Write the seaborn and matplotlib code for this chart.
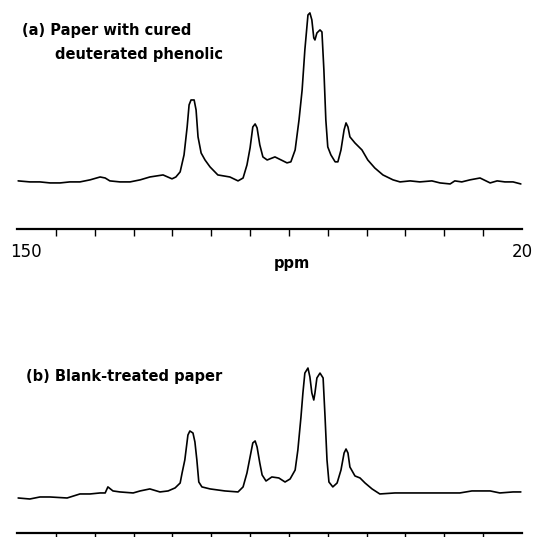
import pandas as pd
import matplotlib.pyplot as plt
import matplotlib.transforms as mtransforms
import seaborn as sns

# chemical shift (ppm) and relative intensity
ppm_a = [149.7, 146.7, 144.1, 141.5, 138.9, 136.4, 133.8, 131.2, 128.6, 127.3,
         126.1, 123.5, 120.9, 118.3, 115.8, 112.4, 110.1, 109.1, 108.0, 107.0,
         106.2, 105.7, 105.2, 104.4, 103.9, 103.4, 102.6, 101.6, 100.3, 98.3,
         95.2, 93.1, 91.8, 90.8, 90.0, 89.3, 88.7, 88.2, 87.5, 86.7,
         85.6, 83.6, 82.0, 80.5, 79.5, 78.4, 77.4, 76.6, 75.9, 75.1,
         74.6, 74.1, 73.6, 73.3, 72.8, 72.0, 71.5, 71.0, 70.5, 70.0,
         69.2, 68.1, 67.4, 66.6, 65.8, 65.3, 64.8, 64.3, 63.0, 61.2,
         59.7, 57.9, 55.8, 53.2, 51.4, 48.8, 46.3, 43.2, 41.1, 38.5,
         37.3, 35.5, 33.4, 30.8, 28.2, 26.4, 24.4, 22.3, 20.3]
int_a = [1.2, 0.6, 0.6, 0.0, 0.0, 0.6, 0.6, 1.8, 3.5, 2.9,
         1.2, 0.6, 0.6, 1.8, 3.5, 4.7, 2.4, 3.5, 6.5, 16.5,
         32.9, 45.9, 48.8, 48.8, 42.9, 27.1, 17.6, 13.5, 9.4, 4.7,
         3.5, 1.2, 2.9, 10.6, 20.6, 32.9, 34.7, 32.4, 22.4, 15.3,
         13.5, 15.3, 13.5, 11.8, 12.4, 19.4, 37.1, 54.7, 78.2, 98.8,
         100.0, 95.9, 85.3, 84.1, 88.2, 90.0, 88.8, 66.5, 37.1, 21.2,
         16.5, 12.4, 12.4, 19.4, 31.2, 35.3, 32.9, 27.1, 23.5, 19.4,
         13.5, 8.8, 4.7, 1.8, 0.6, 1.2, 0.6, 1.2, 0.0, -0.6,
         1.2, 0.6, 1.8, 2.9, 0.0, 1.2, 0.6, 0.6, -0.6]

ppm_b = [149.7, 146.7, 144.1, 141.5, 137.1, 133.8, 131.2, 128.6, 127.3, 126.6,
         125.3, 123.5, 120.1, 118.3, 115.8, 113.2, 111.1, 109.3, 108.0, 107.5,
         106.8, 106.0, 105.5, 104.7, 104.2, 103.7, 103.2, 102.4, 100.3, 96.5,
         93.1, 91.8, 90.8, 90.0, 89.3, 88.7, 88.2, 87.5, 86.9, 85.9,
         84.4, 82.6, 81.0, 79.7, 78.4, 77.7, 76.9, 76.4, 75.9, 75.1,
         74.6, 74.1, 73.6, 73.3, 72.8, 72.0, 71.2, 70.7, 70.2, 69.7,
         68.7, 67.6, 66.6, 65.8, 65.3, 64.8, 64.3, 63.0, 61.7, 60.4,
         58.6, 56.6, 52.7, 50.1, 46.3, 41.1, 36.0, 32.9, 28.2, 25.7,
         22.3, 20.3]
int_b = [-3.2, -4.0, -2.4, -2.4, -3.2, 0.0, 0.0, 0.8, 0.8, 5.6,
         2.4, 1.6, 0.8, 2.4, 4.0, 1.6, 2.4, 4.8, 8.7, 16.7,
         27.0, 46.8, 50.0, 48.4, 41.3, 27.0, 9.5, 5.6, 4.0, 2.4,
         1.6, 5.6, 16.7, 29.4, 40.5, 42.1, 37.3, 24.6, 15.1, 10.3,
         13.5, 12.7, 9.5, 11.9, 19.0, 34.9, 61.1, 80.2, 96.0, 100.0,
         92.9, 80.2, 74.6, 80.2, 92.1, 96.0, 92.1, 61.1, 27.0, 9.5,
         5.6, 8.7, 19.0, 32.5, 35.7, 32.5, 21.4, 14.3, 12.7, 8.7,
         4.0, 0.0, 0.8, 0.8, 0.8, 0.8, 0.8, 2.4, 2.4, 0.8,
         1.6, 1.6]

minor_ticks = [140, 130, 120, 110, 100, 90, 80, 70, 60, 50, 40, 30]
end_labels = [150, 20]

sns.set_style("white")
plt.rcParams['font.family'] = ['DejaVu Sans']
plt.rcParams['text.color'] = 'black'
plt.rcParams['xtick.color'] = 'black'
plt.rcParams['axes.labelcolor'] = 'black'

fig = plt.figure(figsize=(5.39, 5.37), dpi=100)
ax_a = fig.add_axes([17 / 539, 1 - 229 / 537, 505 / 539, 229 / 537])
ax_b = fig.add_axes([17 / 539, 1 - 533 / 537, 505 / 539, 203 / 537])

df_a = pd.DataFrame({'ppm': ppm_a, 'intensity': int_a})
df_b = pd.DataFrame({'ppm': ppm_b, 'intensity': int_b})

sns.lineplot(data=df_a, x='ppm', y='intensity', sort=False, estimator=None,
             color='black', linewidth=1.2, ax=ax_a)
sns.lineplot(data=df_b, x='ppm', y='intensity', sort=False, estimator=None,
             color='black', linewidth=1.2, ax=ax_b)

ax_a.set_ylim(-27.1, 107.6)
ax_b.set_ylim(-31.0, 130.2)

for ax in (ax_a, ax_b):
    ax.set_xlim(150, 20)
    ax.set_facecolor('none')
    for s in ('top', 'left', 'right'):
        ax.spines[s].set_visible(False)
    ax.spines['bottom'].set_linewidth(1.6)
    ax.spines['bottom'].set_color('black')
    ax.set_yticks([])
    ax.set_ylabel('')
    ax.set_xlabel('')
    ax.set_xticks(minor_ticks, minor=True)
    ax.tick_params(axis='x', which='minor', direction='out', length=5,
                   width=1, color='black', bottom=True)

ax_a.set_xticks(end_labels)
ax_a.set_xticklabels([str(v) for v in end_labels])
ax_a.tick_params(axis='x', which='major', length=0, pad=10, labelsize=12)
# the "150" sits a little right of the axis start
lbl = ax_a.get_xticklabels()[0]
lbl.set_transform(lbl.get_transform() +
                  mtransforms.ScaledTranslation(9 / 100, 0, fig.dpi_scale_trans))
ax_a.set_xlabel('ppm', fontsize=10.5, fontweight='bold')
ax_a.xaxis.set_label_coords(0.545, -0.12)

ax_b.set_xticks([])

fig.text(22 / 539, 1 - 30 / 537, '(a) Paper with cured', fontsize=10.5,
         fontweight='bold', va='center', ha='left')
fig.text(55 / 539, 1 - 55 / 537, 'deuterated phenolic', fontsize=10.5,
         fontweight='bold', va='center', ha='left')
fig.text(26 / 539, 1 - 377 / 537, '(b) Blank-treated paper', fontsize=10.5,
         fontweight='bold', va='center', ha='left')

fig.savefig('out.png', dpi=100)
